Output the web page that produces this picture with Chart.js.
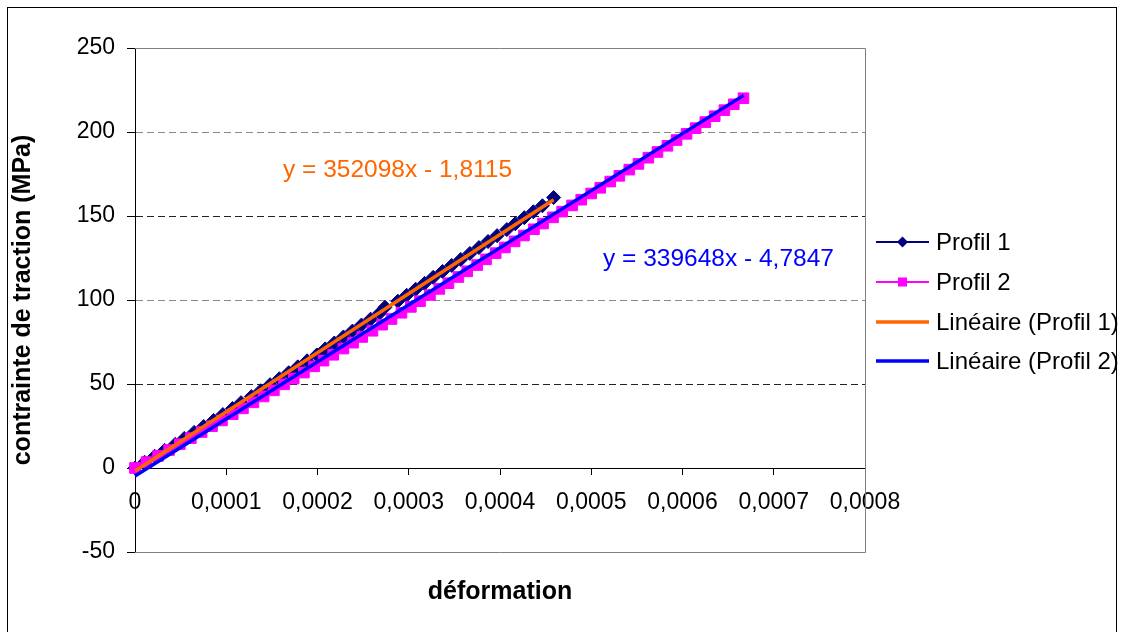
<!DOCTYPE html>
<html><head><meta charset="utf-8">
<script src="https://cdn.jsdelivr.net/npm/chart.js@4.4.1/dist/chart.umd.min.js"></script>
<style>html,body{margin:0;padding:0;background:#fff}#wrap{width:1122px;height:632px}</style>
</head><body><div id="wrap"><canvas id="c" width="1122" height="632"></canvas></div>
<script>
// ---- data ----
const profil1Strain = [0, 10.5e-6, 21.6e-6, 32.4e-6, 44.1e-6, 54.0e-6, 64.8e-6, 75.3e-6, 86.1e-6, 96.3e-6,
  106.8e-6, 116.2e-6, 127.5e-6, 137.8e-6, 148.0e-6, 158.2e-6, 168.4e-6, 178.4e-6, 188.6e-6, 199.3e-6,
  208.5e-6, 218.4e-6, 228.4e-6, 238.3e-6, 248.2e-6, 258.2e-6, 268.1e-6, 274.0e-6, 288.0e-6, 297.7e-6,
  307.6e-6, 317.3e-6, 326.8e-6, 337.1e-6, 347.1e-6, 357.0e-6, 367.0e-6, 376.9e-6, 386.9e-6, 396.8e-6,
  407.5e-6, 416.7e-6, 426.6e-6, 436.6e-6, 446.5e-6, 458.8e-6];
const profil1Stress = [0, 3.4, 7.0, 10.5, 14.1, 17.6, 21.2, 24.7, 28.3, 31.8,
  35.4, 38.9, 42.5, 46.0, 49.6, 53.1, 56.7, 60.2, 63.8, 67.3,
  70.9, 74.4, 78.0, 81.5, 85.1, 88.6, 92.2, 95.7, 99.3, 102.8,
  106.4, 109.9, 113.5, 117.0, 120.6, 124.1, 127.7, 131.2, 134.8, 138.3,
  141.9, 145.4, 149.0, 152.5, 156.1, 161.0];
const profil2Strain = [0, 12.6e-6, 25.3e-6, 37.3e-6, 49.1e-6, 61.2e-6, 73.0e-6, 84.4e-6, 95.3e-6, 107.1e-6,
  118.3e-6, 129.8e-6, 141.0e-6, 152.2e-6, 163.3e-6, 173.9e-6, 185.1e-6, 196.3e-6, 206.6e-6, 217.2e-6,
  228.4e-6, 239.0e-6, 249.0e-6, 260.2e-6, 270.8e-6, 281.1e-6, 292.0e-6, 302.3e-6, 312.3e-6, 323.2e-6,
  333.5e-6, 343.5e-6, 354.4e-6, 364.1e-6, 375.0e-6, 384.7e-6, 395.3e-6, 405.4e-6, 416.0e-6, 426.3e-6,
  437.2e-6, 447.2e-6, 458.1e-6, 468.1e-6, 479.0e-6, 489.0e-6, 499.9e-6, 509.9e-6, 520.8e-6, 530.8e-6,
  541.7e-6, 551.7e-6, 562.6e-6, 572.6e-6, 583.5e-6, 593.5e-6, 604.4e-6, 614.4e-6, 625.0e-6, 635.3e-6,
  645.9e-6, 656.2e-6, 666.8e-6];
const profil2Stress = [0, 3.5, 7.2, 10.7, 14.2, 17.8, 21.4, 24.9, 28.3, 32.0,
  35.5, 39.1, 42.6, 46.2, 49.8, 53.2, 56.8, 60.5, 63.9, 67.4,
  71.1, 74.6, 78.0, 81.7, 85.3, 88.7, 92.4, 95.9, 99.3, 103.0,
  106.6, 110.0, 113.7, 117.1, 120.8, 124.2, 127.9, 131.3, 134.9, 138.4,
  142.1, 145.5, 149.2, 152.6, 156.3, 159.7, 163.4, 166.8, 170.5, 173.9,
  177.6, 181.0, 184.7, 188.1, 191.8, 195.2, 198.9, 202.3, 205.9, 209.4,
  213.0, 216.5, 220.1];
// linear trend lines (end points of the fitted lines)
const trend1Strain = [0, 0.0004588];
const trend1Stress = [-1.8115, 159.7];
const trend2Strain = [0, 0.000667];
const trend2Stress = [-4.7847, 221.8];
const seriesNames = ['Profil 1', 'Profil 2', 'Linéaire (Profil 1)', 'Linéaire (Profil 2)'];
const equations = ['y = 352098x - 1,8115', 'y = 339648x - 4,7847'];
const xTicks = [0, 0.0001, 0.0002, 0.0003, 0.0004, 0.0005, 0.0006, 0.0007, 0.0008];
const xTickLabels = ['0', '0,0001', '0,0002', '0,0003', '0,0004', '0,0005', '0,0006', '0,0007', '0,0008'];
const yTicks = [-50, 0, 50, 100, 150, 200, 250];
const yTickLabels = ['-50', '0', '50', '100', '150', '200', '250'];
const xTitle = 'déformation';
const yTitle = 'contrainte de traction (MPa)';

// ---- styling ----
const FAM = "'Liberation Sans', Arial, sans-serif";
const colors = ['#000080', '#FF00FF', '#FF6600', '#0000FF'];
const pts = (xs, ys) => xs.map((x, i) => ({x: x, y: ys[i]}));

const decor = {
  id: 'decor',
  beforeDraw(chart) {
    const c = chart.ctx;
    c.save();
    c.fillStyle = '#fff';
    c.fillRect(0, 0, chart.width, chart.height);
    c.strokeStyle = '#000';
    c.lineWidth = 1;
    c.strokeRect(7.5, 7.5, 1109, 650);
    c.restore();
  },
  beforeDatasetsDraw(chart) {
    const a = chart.chartArea, c = chart.ctx;
    c.save();
    c.strokeStyle = '#808080';
    c.lineWidth = 1;
    c.beginPath();
    c.moveTo(a.left, Math.round(a.top) + 0.5);
    c.lineTo(Math.round(a.right) + 0.5, Math.round(a.top) + 0.5);
    c.lineTo(Math.round(a.right) + 0.5, Math.round(a.bottom) + 0.5);
    c.lineTo(a.left, Math.round(a.bottom) + 0.5);
    c.stroke();
    c.restore();
  },
  afterDatasetsDraw(chart) {
    const a = chart.chartArea, c = chart.ctx;
    c.save();
    // equations
    c.font = '24.5px ' + FAM;
    c.textBaseline = 'middle';
    c.textAlign = 'left';
    c.fillStyle = colors[2];
    c.fillText(equations[0], a.left + 148, a.top + 122);
    c.fillStyle = colors[3];
    c.fillText(equations[1], a.left + 468, a.top + 211);
    // x title
    c.font = 'bold 25px ' + FAM;
    c.fillStyle = '#000';
    c.textAlign = 'center';
    c.fillText(xTitle, (a.left + a.right) / 2, a.bottom + 40);
    // legend
    const lx0 = a.right + 11, lx1 = a.right + 64, tx = a.right + 71;
    const ys = [242, 282, 322, 361];
    c.font = '24px ' + FAM;
    c.textAlign = 'left';
    for (let i = 0; i < 4; i++) {
      const y = ys[i];
      c.strokeStyle = colors[i];
      c.lineWidth = i < 2 ? 2 : 3.5;
      c.beginPath();
      c.moveTo(lx0, y);
      c.lineTo(lx1, y);
      c.stroke();
      const mx = (lx0 + lx1) / 2;
      c.fillStyle = colors[i];
      if (i === 0) {
        c.beginPath();
        c.moveTo(mx, y - 5.5); c.lineTo(mx + 5.5, y); c.lineTo(mx, y + 5.5); c.lineTo(mx - 5.5, y);
        c.closePath(); c.fill();
      } else if (i === 1) {
        c.fillRect(mx - 4.5, y - 4.5, 9, 9);
      }
      c.fillStyle = '#000';
      c.fillText(seriesNames[i], tx, y + 1);
    }
    c.restore();
  }
};

function gridColor(v) {
  if (v === 50 || v === 150) return '#222';
  if (v === 100 || v === 200) return '#888';
  return 'rgba(0,0,0,0)';
}

new Chart(document.getElementById('c'), {
  type: 'scatter',
  data: {
    datasets: [
      { label: seriesNames[0], data: pts(profil1Strain, profil1Stress), showLine: true,
        borderColor: colors[0], backgroundColor: colors[0], borderWidth: 2,
        pointStyle: 'rectRot', pointRadius: 7, pointBorderWidth: 1, pointBorderColor: colors[0],
        order: 4, clip: false },
      { label: seriesNames[1], data: pts(profil2Strain, profil2Stress), showLine: true,
        borderColor: colors[1], backgroundColor: colors[1], borderWidth: 2,
        pointStyle: 'rect', pointRadius: 7.5, pointBorderWidth: 1, pointBorderColor: colors[1],
        order: 3, clip: false },
      { label: seriesNames[2], data: pts(trend1Strain, trend1Stress), showLine: true,
        borderColor: colors[2], borderWidth: 3.5, pointRadius: 0, order: 2, clip: false },
      { label: seriesNames[3], data: pts(trend2Strain, trend2Stress), showLine: true,
        borderColor: colors[3], borderWidth: 3.5, pointRadius: 0, order: 1, clip: false }
    ]
  },
  options: {
    responsive: false,
    animation: false,
    devicePixelRatio: 1,
    events: [],
    layout: { padding: { left: 8, top: 48, right: 257, bottom: 80 } },
    plugins: { legend: { display: false }, tooltip: { enabled: false }, title: { display: false } },
    scales: {
      x: {
        type: 'linear', min: 0, max: 0.0008, position: { y: 0 },
        afterBuildTicks: s => { s.ticks = xTicks.map(v => ({ value: v })); },
        ticks: { callback: (v, i) => xTickLabels[i], font: { family: FAM, size: 23 }, color: '#000',
                 padding: 15, maxRotation: 0, autoSkip: false },
        grid: { drawOnChartArea: false, drawTicks: true, tickLength: 6, tickColor: '#000', tickWidth: 1 },
        border: { display: true, color: '#000', width: 1 },
        afterFit: s => { s.height = 0; }
      },
      y: {
        type: 'linear', min: -50, max: 250,
        afterBuildTicks: s => { s.ticks = yTicks.map(v => ({ value: v })); },
        ticks: { callback: (v, i) => yTickLabels[i], font: { family: FAM, size: 23 }, color: '#000', padding: 12 },
        grid: { color: c => gridColor(c.tick ? c.tick.value : null), lineWidth: 1, drawTicks: true,
                tickLength: 8, tickColor: '#000', tickWidth: 1 },
        border: { display: true, color: '#000', width: 1, dash: [7, 4] },
        title: { display: true, text: yTitle, color: '#000', font: { family: FAM, size: 25, weight: 'bold' },
                 padding: { top: 0, bottom: 0 } },
        afterFit: s => { s.width = 127; }
      }
    }
  },
  plugins: [decor]
});
</script>
</body></html>
